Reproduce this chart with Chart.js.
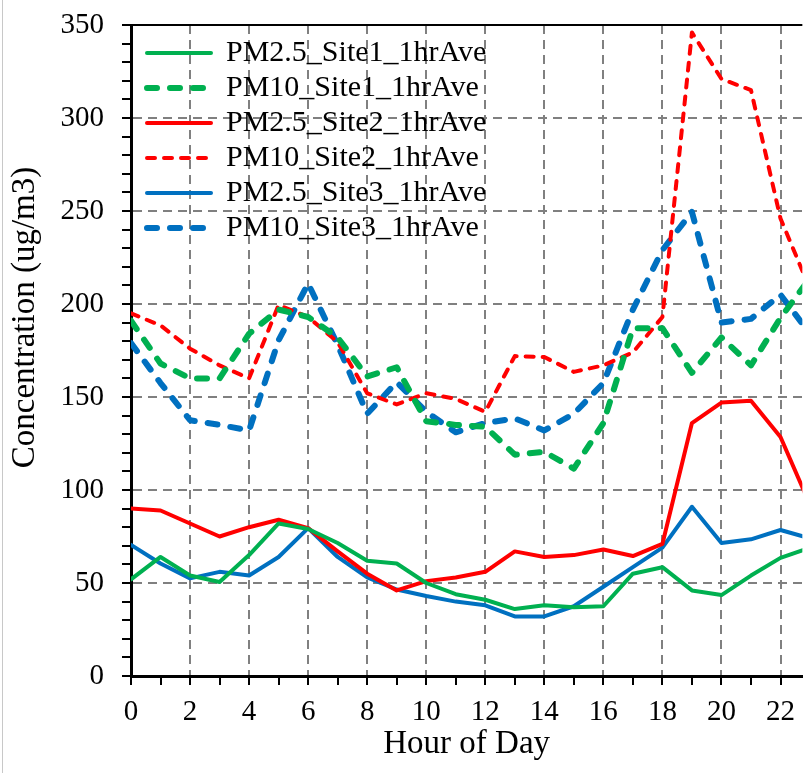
<!DOCTYPE html>
<html>
<head>
<meta charset="utf-8">
<script src="https://cdn.jsdelivr.net/npm/chart.js@4.4.0/dist/chart.umd.min.js"></script>
<style>
  html, body { margin: 0; padding: 0; background: #fff; }
  #wrap { position: relative; width: 805px; height: 773px; overflow: hidden; }
  #wrap:before { content: ''; position: absolute; left: 2px; top: 0; bottom: 0; border-left: 1px solid #c8c8c8; }
</style>
</head>
<body>
<div id="wrap"><canvas id="myChart" width="805" height="773"></canvas></div>
<script>
const hours = [0, 1, 2, 3, 4, 5, 6, 7, 8, 9, 10, 11, 12, 13, 14, 15, 16, 17, 18, 19, 20, 21, 22, 23]

const pm25Site1 = [52, 64, 54, 50.5, 65, 82, 79, 71.5, 62, 60.5, 50, 44, 41, 36, 38, 37, 37.5, 55, 58.5, 46, 43.5, 54, 63.5, 69]
const pm10Site1 = [191, 168, 160, 160, 184, 197, 193, 182, 161, 166, 137, 135, 134, 119, 120.5, 111.5, 136, 187, 187, 163, 182, 167, 192.5, 214]
const pm25Site2 = [90, 89, 82, 75, 80, 84, 79.5, 67, 55, 46, 51, 53, 56, 67, 64, 65, 68, 64.5, 71, 136, 147, 148, 128.5, 92]
const pm10Site2 = [195, 188.5, 176, 167, 160, 199.5, 193, 179.5, 152, 146, 152, 149, 142, 172, 171.5, 163.5, 167, 174, 193, 346, 321, 315, 246, 208]
const pm25Site3 = [70.5, 60.5, 52.5, 56, 54, 64, 79.5, 64, 53, 46.5, 43, 40, 38, 32, 32, 37.5, 48, 58.5, 69, 91, 71.5, 73.5, 78.5, 74]
const pm10Site3 = [179, 157.5, 137.5, 135, 132, 180.5, 211, 178, 141, 158, 142, 131, 136, 138.5, 132, 141, 157.5, 197, 229, 249.5, 190, 192, 205, 184]

const yTicks = [0, 50, 100, 150, 200, 250, 300, 350]
const xTicks = [0, 2, 4, 6, 8, 10, 12, 14, 16, 18, 20, 22]

const GREEN = '#00B050'
const RED = '#FF0000'
const BLUE = '#0070C0'
const FONT = 'Liberation Serif'

const solid = (label, data, color) => ({
  label, data,
  borderColor: color, backgroundColor: color,
  borderWidth: 4, pointRadius: 0, tension: 0,
  borderJoinStyle: 'round', borderCapStyle: 'round',
})
const dashed = (label, data, color, width, dash) => ({
  ...solid(label, data, color),
  borderWidth: width, borderDash: dash,
})

// legend lines should look like the dataset lines (width + dash)
const legendLabels = chart =>
  Chart.defaults.plugins.legend.labels.generateLabels(chart).map(item => {
    const ds = chart.data.datasets[item.datasetIndex]
    return { ...item, lineWidth: ds.borderWidth, lineDash: ds.borderDash || [], lineCap: 'round', strokeStyle: ds.borderColor }
  })

// top frame line + put the legend in the upper left of the plot
const framePlugin = {
  id: 'frame',
  afterLayout (chart) {
    chart.legend.left = chart.chartArea.left + 11
    chart.legend.top = chart.chartArea.top + 8
  },
  afterDatasetsDraw (chart) {
    const { ctx, chartArea } = chart
    ctx.save()
    ctx.strokeStyle = '#000'
    ctx.lineWidth = 2
    ctx.beginPath()
    ctx.moveTo(chartArea.left, chartArea.top)
    ctx.lineTo(chartArea.right, chartArea.top)
    ctx.stroke()
    ctx.restore()
  }
}

Chart.defaults.font.family = FONT
Chart.defaults.color = '#000'

var ctx = document.getElementById('myChart').getContext('2d')
var chart = new Chart(ctx, {
  type: 'line',
  data: {
    labels: hours,
    datasets: [
      solid('PM2.5_Site1_1hrAve', pm25Site1, GREEN),
      dashed('PM10_Site1_1hrAve', pm10Site1, GREEN, 6, [10, 13]),
      solid('PM2.5_Site2_1hrAve', pm25Site2, RED),
      dashed('PM10_Site2_1hrAve', pm10Site2, RED, 4, [8, 9]),
      solid('PM2.5_Site3_1hrAve', pm25Site3, BLUE),
      dashed('PM10_Site3_1hrAve', pm10Site3, BLUE, 6, [10, 13]),
    ]
  },
  options: {
    responsive: false,
    animation: false,
    layout: { padding: { top: 25, left: 0, right: 0, bottom: 0 } },
    plugins: {
      tooltip: { enabled: false },
      legend: {
        position: 'chartArea',
        align: 'start',
        labels: {
          usePointStyle: true,
          pointStyle: 'line',
          pointStyleWidth: 64,
          padding: 5,
          color: '#000',
          font: { family: FONT, size: 30 },
          generateLabels: legendLabels,
        }
      }
    },
    scales: {
      x: {
        type: 'linear',
        min: 0,
        max: 22.74,
        afterFit (scale) { scale.height = 97 },
        ticks: {
          stepSize: 1,
          autoSkip: false,
          includeBounds: false,
          maxRotation: 0,
          padding: 10,
          font: { size: 29 },
          callback: v => xTicks.includes(v) ? String(v) : '',
        },
        grid: {
          // dashed grid only on even hours, short tick marks on every hour
          color: c => (c.type === 'tick' && c.index > 0 && c.index % 2 === 0) ? '#808080' : 'rgba(0,0,0,0)',
          lineWidth: 2,
          tickColor: '#000',
          tickLength: 9,
          tickWidth: 2,
        },
        border: { color: '#000', width: 3, dash: [9, 6] },
        title: {
          display: true,
          text: 'Hour of Day',
          font: { size: 33 },
          padding: { top: 0, bottom: 9 },
        }
      },
      y: {
        min: 0,
        max: 350,
        afterFit (scale) {
          scale.width = 131
          scale.paddingTop = 0
          scale.paddingBottom = 0
        },
        ticks: {
          stepSize: 10,
          autoSkip: false,
          padding: 18,
          font: { size: 29 },
          callback: v => yTicks.includes(v) ? String(v) : '',
        },
        grid: {
          color: c => (c.tick && yTicks.includes(c.tick.value) && c.tick.value !== 0 && c.tick.value !== 350) ? '#808080' : 'rgba(0,0,0,0)',
          lineWidth: 2,
          tickColor: '#000',
          tickLength: 9,
          tickWidth: 2,
        },
        border: { color: '#000', width: 3, dash: [9, 6] },
        title: {
          display: true,
          // leading spaces lift the title a bit above the middle, as in the original
          text: '        Concentration (ug/m3)',
          font: { size: 33 },
          padding: { top: 6, bottom: 0 },
        }
      }
    }
  },
  plugins: [framePlugin]
})
</script>
</body>
</html>
